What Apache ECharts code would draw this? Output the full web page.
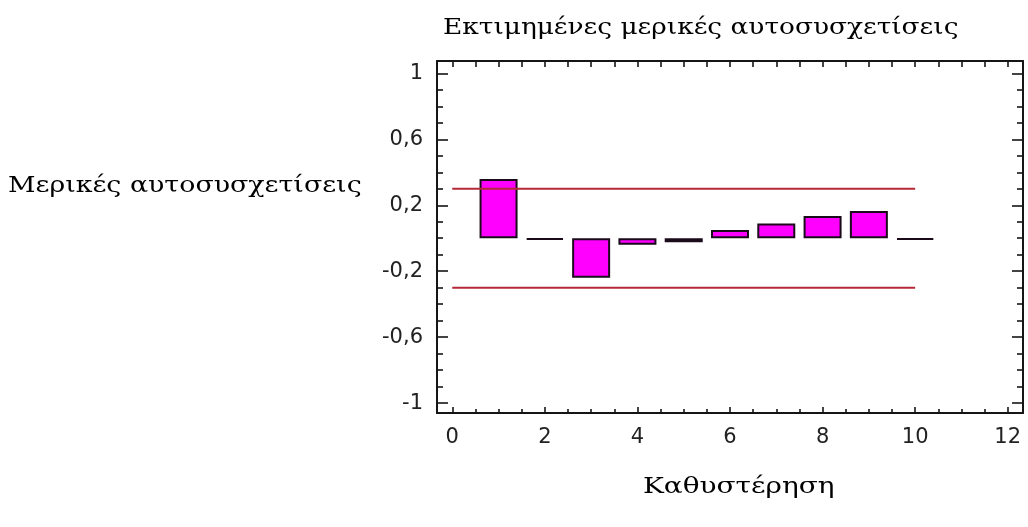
<!DOCTYPE html>
<html><head><meta charset="utf-8">
<script src="https://cdn.jsdelivr.net/npm/echarts@6/dist/echarts.min.js"></script>
<style>html,body{margin:0;padding:0;background:#fff}#c{width:1028px;height:527px}</style>
</head><body><div id="c"></div>
<script>
const titleText = 'Εκτιμημένες μερικές αυτοσυσχετίσεις';
const yName = 'Μερικές αυτοσυσχετίσεις';
const xName = 'Καθυστέρηση';
const lags = [1, 2, 3, 4, 5, 6, 7, 8, 9, 10];
const pacf = [0.36, -0.01, -0.24, -0.04, -0.025, 0.05, 0.09, 0.135, 0.165, -0.01];
const limitLags = [0, 10];
const upperLimit = [0.30, 0.30];
const lowerLimit = [-0.30, -0.30];
const xMajorTicks = [0, 2, 4, 6, 8, 10, 12];
const xMinorTicks = [0.5, 1, 1.5, 2.5, 3, 3.5, 4.5, 5, 5.5, 6.5, 7, 7.5, 8.5, 9, 9.5, 10.5, 11, 11.5];
const xAllTicks = [0, 0.5, 1, 1.5, 2, 2.5, 3, 3.5, 4, 4.5, 5, 5.5, 6, 6.5, 7, 7.5, 8, 8.5, 9, 9.5, 10, 10.5, 11, 11.5, 12];
const yMajorTicks = [-1, -0.6, -0.2, 0.2, 0.6, 1];
const yMinorTicks = [-0.9, -0.8, -0.7, -0.5, -0.4, -0.3, -0.1, 0, 0.1, 0.3, 0.4, 0.5, 0.7, 0.8, 0.9];

const X_MIN = -0.33, X_MAX = 12.33, Y_MIN = -1.06, Y_MAX = 1.075;
const ink = '#151515';
const sans = 'DejaVu Sans';
const serif = 'DejaVu Serif';

function fmt(v) { return String(Math.round(v * 10) / 10).replace('.', ','); }

function xAx(pos, ticks, len, showLine, labels) {
  return {
    type: 'value', position: pos, min: X_MIN, max: X_MAX,
    axisLine: { show: showLine, onZero: false, lineStyle: { color: ink, width: 2 } },
    axisTick: { show: true, inside: true, length: len, customValues: ticks, lineStyle: { color: ink, width: 1.6 } },
    axisLabel: labels ? { show: true, customValues: labels, margin: 14, formatter: fmt, fontFamily: sans, fontSize: 21, color: '#222' } : { show: false },
    splitLine: { show: false }
  };
}
function yAx(pos, ticks, len, showLine, labels) {
  return {
    type: 'value', position: pos, min: Y_MIN, max: Y_MAX,
    axisLine: { show: showLine, onZero: false, lineStyle: { color: ink, width: 2 } },
    axisTick: { show: true, inside: true, length: len, customValues: ticks, lineStyle: { color: ink, width: 1.6 } },
    axisLabel: labels ? { show: true, customValues: labels, margin: 14, formatter: fmt, fontFamily: sans, fontSize: 21, color: '#222' } : { show: false },
    splitLine: { show: false }
  };
}

const chart = echarts.init(document.getElementById('c'), null, { renderer: 'canvas' });
chart.setOption({
  backgroundColor: '#ffffff',
  animation: false,
  grid: { left: 437, top: 61, right: 5, bottom: 114, containLabel: false },
  xAxis: [
    xAx('bottom', xMajorTicks, 6, true, xMajorTicks),
    xAx('bottom', xMinorTicks, 4, false, null),
    xAx('top', xAllTicks, 6, true, null)
  ],
  yAxis: [
    yAx('left', yMajorTicks, 11, true, yMajorTicks),
    yAx('left', yMinorTicks, 6, false, null),
    yAx('right', yMajorTicks, 11, true, null),
    yAx('right', yMinorTicks, 6, false, null)
  ],
  graphic: [
    { type: 'text', left: 443, top: 17, style: { text: titleText, fontFamily: serif, fontSize: 22, fill: '#000' }, scaleX: 1.2 },
    { type: 'text', left: 8, top: 175, style: { text: yName, fontFamily: serif, fontSize: 22, fill: '#000' }, scaleX: 1.22 },
    { type: 'text', left: 643, top: 476, style: { text: xName, fontFamily: serif, fontSize: 22, fill: '#000' }, scaleX: 1.27 }
  ],
  series: [
    {
      type: 'bar', xAxisIndex: 0, yAxisIndex: 0, barWidth: 38,
      data: lags.map((l, i) => [l, pacf[i]]),
      itemStyle: { color: '#ff00ff', borderColor: '#1a0a1a', borderWidth: 2 },
      silent: true
    },
    {
      type: 'line', xAxisIndex: 0, yAxisIndex: 0, symbol: 'none', silent: true,
      data: limitLags.map((l, i) => [l, upperLimit[i]]),
      lineStyle: { color: '#b42838', width: 2 }
    },
    {
      type: 'line', xAxisIndex: 0, yAxisIndex: 0, symbol: 'none', silent: true,
      data: limitLags.map((l, i) => [l, lowerLimit[i]]),
      lineStyle: { color: '#b42838', width: 2 }
    }
  ]
});
</script>
</body></html>
